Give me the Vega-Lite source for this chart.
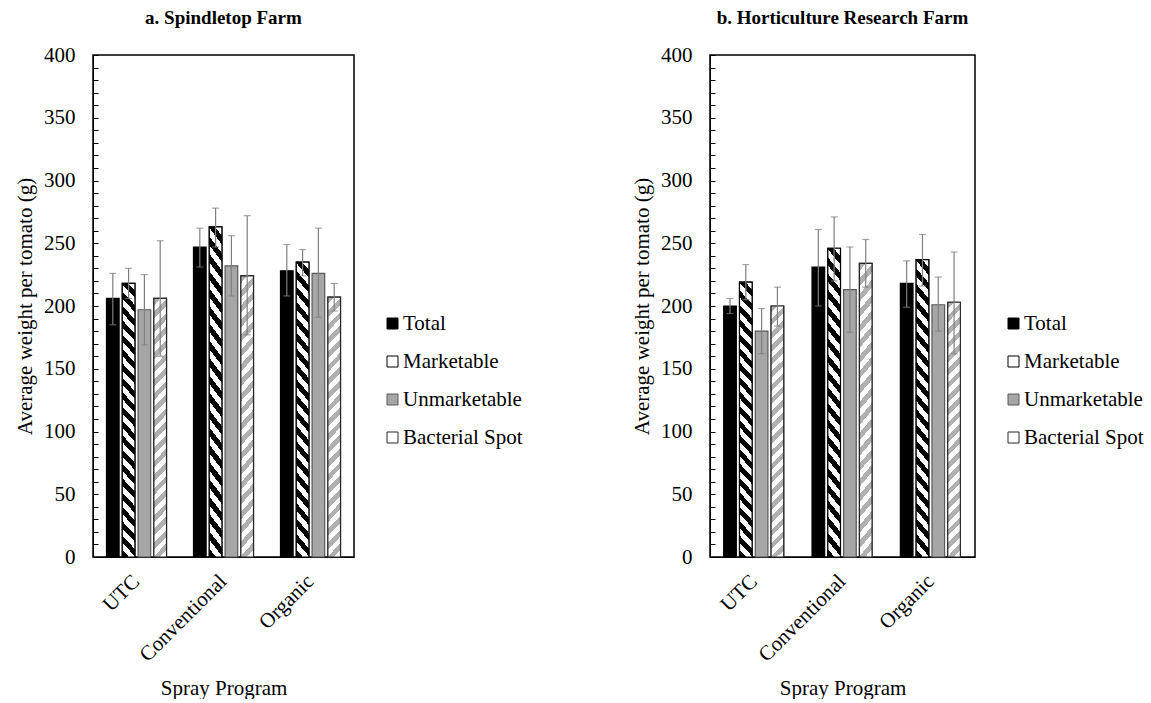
{
  "$schema": "https://vega.github.io/schema/vega-lite/v6.json",
  "padding": {"left": 13, "top": 8, "right": 0, "bottom": 0},
  "background": "white",
  "config": {
    "font": "Liberation Serif",
    "view": {"stroke": "#000", "strokeWidth": 1.5},
    "axis": {"labelFont": "Liberation Serif", "titleFont": "Liberation Serif", "labelFontSize": 21, "titleFontSize": 21, "titleFontWeight": "normal", "labelColor": "#000", "titleColor": "#000", "domainColor": "#000", "tickColor": "#000", "grid": false},
    "title": {"font": "Liberation Serif", "fontSize": 19, "fontWeight": "bold", "color": "#000", "offset": 16},
    "legend": {"labelFont": "Liberation Serif", "labelFontSize": 21, "labelColor": "#000"}
  },
  "datasets": {
    "tomato": [
      {"farm": "a", "program": "UTC", "type": "Total", "mean": 206, "lo": 185, "hi": 226},
      {"farm": "a", "program": "UTC", "type": "Marketable", "mean": 218, "lo": 206, "hi": 230},
      {"farm": "a", "program": "UTC", "type": "Unmarketable", "mean": 197, "lo": 169, "hi": 225},
      {"farm": "a", "program": "UTC", "type": "Bacterial Spot", "mean": 206, "lo": 160, "hi": 252},
      {"farm": "a", "program": "Conventional", "type": "Total", "mean": 247, "lo": 231, "hi": 262},
      {"farm": "a", "program": "Conventional", "type": "Marketable", "mean": 263, "lo": 247, "hi": 278},
      {"farm": "a", "program": "Conventional", "type": "Unmarketable", "mean": 232, "lo": 208, "hi": 256},
      {"farm": "a", "program": "Conventional", "type": "Bacterial Spot", "mean": 224, "lo": 177, "hi": 272},
      {"farm": "a", "program": "Organic", "type": "Total", "mean": 228, "lo": 208, "hi": 249},
      {"farm": "a", "program": "Organic", "type": "Marketable", "mean": 235, "lo": 224, "hi": 245},
      {"farm": "a", "program": "Organic", "type": "Unmarketable", "mean": 226, "lo": 191, "hi": 262},
      {"farm": "a", "program": "Organic", "type": "Bacterial Spot", "mean": 207, "lo": 196, "hi": 218},
      {"farm": "b", "program": "UTC", "type": "Total", "mean": 200, "lo": 194, "hi": 206},
      {"farm": "b", "program": "UTC", "type": "Marketable", "mean": 219, "lo": 205, "hi": 233},
      {"farm": "b", "program": "UTC", "type": "Unmarketable", "mean": 180, "lo": 162, "hi": 198},
      {"farm": "b", "program": "UTC", "type": "Bacterial Spot", "mean": 200, "lo": 184, "hi": 215},
      {"farm": "b", "program": "Conventional", "type": "Total", "mean": 231, "lo": 200, "hi": 261},
      {"farm": "b", "program": "Conventional", "type": "Marketable", "mean": 246, "lo": 220, "hi": 271},
      {"farm": "b", "program": "Conventional", "type": "Unmarketable", "mean": 213, "lo": 179, "hi": 247},
      {"farm": "b", "program": "Conventional", "type": "Bacterial Spot", "mean": 234, "lo": 215, "hi": 253},
      {"farm": "b", "program": "Organic", "type": "Total", "mean": 218, "lo": 199, "hi": 236},
      {"farm": "b", "program": "Organic", "type": "Marketable", "mean": 237, "lo": 216, "hi": 257},
      {"farm": "b", "program": "Organic", "type": "Unmarketable", "mean": 201, "lo": 180, "hi": 223},
      {"farm": "b", "program": "Organic", "type": "Bacterial Spot", "mean": 203, "lo": 162, "hi": 243}
    ]
  },
  "spacing": 106,
  "resolve": {"legend": {"fill": "independent", "stroke": "independent"}},
  "hconcat": [
    {
      "width": 261,
      "height": 502,
      "title": {"text": "a. Spindletop Farm"},
      "data": {"name": "tomato"},
      "transform": [{"filter": "datum.farm === 'a'"}],
      "encoding": {
        "x": {"field": "program", "type": "nominal", "sort": ["UTC", "Conventional", "Organic"], "scale": {"paddingInner": 0.31, "paddingOuter": 0.155}, "axis": {"title": "Spray Program", "labelAngle": -45, "labelAlign": "right", "labelBaseline": "middle", "ticks": false, "labelPadding": 21, "titlePadding": 12}},
        "xOffset": {"field": "type", "type": "nominal", "scale": {"domain": ["Total", "Marketable", "Unmarketable", "Bacterial Spot"], "paddingInner": 0.2}},
        "y": {"field": "mean", "type": "quantitative", "title": "Average weight per tomato (g)", "scale": {"domain": [0, 400]}, "axis": {"values": [0,10,20,30,40,50,60,70,80,90,100,110,120,130,140,150,160,170,180,190,200,210,220,230,240,250,260,270,280,290,300,310,320,330,340,350,360,370,380,390,400], "labelExpr": "datum.value % 50 === 0 ? datum.label : ''", "tickSize": -5, "labelPadding": 23, "titlePadding": 8}}
      },
      "layer": [
        {
          "mark": {"type": "bar", "strokeWidth": 1.2},
          "encoding": {
            "fill": {"field": "type", "type": "nominal", "scale": {"domain": ["Total", "Marketable", "Unmarketable", "Bacterial Spot"], "range": ["#000000", "#ffffff", "#a6a6a6", "#ffffff"]}, "legend": {"title": null, "orient": "none", "legendX": 289, "legendY": 258, "symbolType": "square", "symbolSize": 121, "rowPadding": 16, "labelOffset": 0, "symbolStrokeWidth": 1}},
            "stroke": {"field": "type", "type": "nominal", "scale": {"domain": ["Total", "Marketable", "Unmarketable", "Bacterial Spot"], "range": ["#000000", "#000000", "#595959", "#262626"]}, "legend": {"title": null, "orient": "none", "legendX": 289, "legendY": 258, "symbolType": "square", "symbolSize": 121, "rowPadding": 16, "labelOffset": 0, "symbolStrokeWidth": 1}}
          }
        },
        {
          "transform": [{"filter": "datum.type === 'Marketable'"}],
          "mark": {"type": "bar", "strokeWidth": 1.2, "stroke": "#000", "fill": {"gradient": "linear", "x1": 0, "y1": 1, "x2": 0.0524, "y2": -0.047, "stops": [
                {"offset": 0, "color": "#000"}, {"offset": 0.025, "color": "#000"}, {"offset": 0.025, "color": "#fff"}, {"offset": 0.05, "color": "#fff"},
                {"offset": 0.05, "color": "#000"}, {"offset": 0.075, "color": "#000"}, {"offset": 0.075, "color": "#fff"}, {"offset": 0.1, "color": "#fff"},
                {"offset": 0.1, "color": "#000"}, {"offset": 0.125, "color": "#000"}, {"offset": 0.125, "color": "#fff"}, {"offset": 0.15, "color": "#fff"},
                {"offset": 0.15, "color": "#000"}, {"offset": 0.175, "color": "#000"}, {"offset": 0.175, "color": "#fff"}, {"offset": 0.2, "color": "#fff"},
                {"offset": 0.2, "color": "#000"}, {"offset": 0.225, "color": "#000"}, {"offset": 0.225, "color": "#fff"}, {"offset": 0.25, "color": "#fff"},
                {"offset": 0.25, "color": "#000"}, {"offset": 0.275, "color": "#000"}, {"offset": 0.275, "color": "#fff"}, {"offset": 0.3, "color": "#fff"},
                {"offset": 0.3, "color": "#000"}, {"offset": 0.325, "color": "#000"}, {"offset": 0.325, "color": "#fff"}, {"offset": 0.35, "color": "#fff"},
                {"offset": 0.35, "color": "#000"}, {"offset": 0.375, "color": "#000"}, {"offset": 0.375, "color": "#fff"}, {"offset": 0.4, "color": "#fff"},
                {"offset": 0.4, "color": "#000"}, {"offset": 0.425, "color": "#000"}, {"offset": 0.425, "color": "#fff"}, {"offset": 0.45, "color": "#fff"},
                {"offset": 0.45, "color": "#000"}, {"offset": 0.475, "color": "#000"}, {"offset": 0.475, "color": "#fff"}, {"offset": 0.5, "color": "#fff"},
                {"offset": 0.5, "color": "#000"}, {"offset": 0.525, "color": "#000"}, {"offset": 0.525, "color": "#fff"}, {"offset": 0.55, "color": "#fff"},
                {"offset": 0.55, "color": "#000"}, {"offset": 0.575, "color": "#000"}, {"offset": 0.575, "color": "#fff"}, {"offset": 0.6, "color": "#fff"},
                {"offset": 0.6, "color": "#000"}, {"offset": 0.625, "color": "#000"}, {"offset": 0.625, "color": "#fff"}, {"offset": 0.65, "color": "#fff"},
                {"offset": 0.65, "color": "#000"}, {"offset": 0.675, "color": "#000"}, {"offset": 0.675, "color": "#fff"}, {"offset": 0.7, "color": "#fff"},
                {"offset": 0.7, "color": "#000"}, {"offset": 0.725, "color": "#000"}, {"offset": 0.725, "color": "#fff"}, {"offset": 0.75, "color": "#fff"},
                {"offset": 0.75, "color": "#000"}, {"offset": 0.775, "color": "#000"}, {"offset": 0.775, "color": "#fff"}, {"offset": 0.8, "color": "#fff"},
                {"offset": 0.8, "color": "#000"}, {"offset": 0.825, "color": "#000"}, {"offset": 0.825, "color": "#fff"}, {"offset": 0.85, "color": "#fff"},
                {"offset": 0.85, "color": "#000"}, {"offset": 0.875, "color": "#000"}, {"offset": 0.875, "color": "#fff"}, {"offset": 0.9, "color": "#fff"},
                {"offset": 0.9, "color": "#000"}, {"offset": 0.925, "color": "#000"}, {"offset": 0.925, "color": "#fff"}, {"offset": 0.95, "color": "#fff"},
                {"offset": 0.95, "color": "#000"}, {"offset": 0.975, "color": "#000"}, {"offset": 0.975, "color": "#fff"}, {"offset": 1, "color": "#fff"}
              ]}},
          "encoding": {}
        },
        {
          "transform": [{"filter": "datum.type === 'Bacterial Spot'"}],
          "mark": {"type": "bar", "strokeWidth": 1.2, "stroke": "#262626", "fill": {"gradient": "linear", "x1": 0, "y1": 0, "x2": 0.0524, "y2": 1.047, "stops": [
                {"offset": 0, "color": "#b0b0b0"}, {"offset": 0.025, "color": "#b0b0b0"}, {"offset": 0.025, "color": "#fff"}, {"offset": 0.05, "color": "#fff"},
                {"offset": 0.05, "color": "#b0b0b0"}, {"offset": 0.075, "color": "#b0b0b0"}, {"offset": 0.075, "color": "#fff"}, {"offset": 0.1, "color": "#fff"},
                {"offset": 0.1, "color": "#b0b0b0"}, {"offset": 0.125, "color": "#b0b0b0"}, {"offset": 0.125, "color": "#fff"}, {"offset": 0.15, "color": "#fff"},
                {"offset": 0.15, "color": "#b0b0b0"}, {"offset": 0.175, "color": "#b0b0b0"}, {"offset": 0.175, "color": "#fff"}, {"offset": 0.2, "color": "#fff"},
                {"offset": 0.2, "color": "#b0b0b0"}, {"offset": 0.225, "color": "#b0b0b0"}, {"offset": 0.225, "color": "#fff"}, {"offset": 0.25, "color": "#fff"},
                {"offset": 0.25, "color": "#b0b0b0"}, {"offset": 0.275, "color": "#b0b0b0"}, {"offset": 0.275, "color": "#fff"}, {"offset": 0.3, "color": "#fff"},
                {"offset": 0.3, "color": "#b0b0b0"}, {"offset": 0.325, "color": "#b0b0b0"}, {"offset": 0.325, "color": "#fff"}, {"offset": 0.35, "color": "#fff"},
                {"offset": 0.35, "color": "#b0b0b0"}, {"offset": 0.375, "color": "#b0b0b0"}, {"offset": 0.375, "color": "#fff"}, {"offset": 0.4, "color": "#fff"},
                {"offset": 0.4, "color": "#b0b0b0"}, {"offset": 0.425, "color": "#b0b0b0"}, {"offset": 0.425, "color": "#fff"}, {"offset": 0.45, "color": "#fff"},
                {"offset": 0.45, "color": "#b0b0b0"}, {"offset": 0.475, "color": "#b0b0b0"}, {"offset": 0.475, "color": "#fff"}, {"offset": 0.5, "color": "#fff"},
                {"offset": 0.5, "color": "#b0b0b0"}, {"offset": 0.525, "color": "#b0b0b0"}, {"offset": 0.525, "color": "#fff"}, {"offset": 0.55, "color": "#fff"},
                {"offset": 0.55, "color": "#b0b0b0"}, {"offset": 0.575, "color": "#b0b0b0"}, {"offset": 0.575, "color": "#fff"}, {"offset": 0.6, "color": "#fff"},
                {"offset": 0.6, "color": "#b0b0b0"}, {"offset": 0.625, "color": "#b0b0b0"}, {"offset": 0.625, "color": "#fff"}, {"offset": 0.65, "color": "#fff"},
                {"offset": 0.65, "color": "#b0b0b0"}, {"offset": 0.675, "color": "#b0b0b0"}, {"offset": 0.675, "color": "#fff"}, {"offset": 0.7, "color": "#fff"},
                {"offset": 0.7, "color": "#b0b0b0"}, {"offset": 0.725, "color": "#b0b0b0"}, {"offset": 0.725, "color": "#fff"}, {"offset": 0.75, "color": "#fff"},
                {"offset": 0.75, "color": "#b0b0b0"}, {"offset": 0.775, "color": "#b0b0b0"}, {"offset": 0.775, "color": "#fff"}, {"offset": 0.8, "color": "#fff"},
                {"offset": 0.8, "color": "#b0b0b0"}, {"offset": 0.825, "color": "#b0b0b0"}, {"offset": 0.825, "color": "#fff"}, {"offset": 0.85, "color": "#fff"},
                {"offset": 0.85, "color": "#b0b0b0"}, {"offset": 0.875, "color": "#b0b0b0"}, {"offset": 0.875, "color": "#fff"}, {"offset": 0.9, "color": "#fff"},
                {"offset": 0.9, "color": "#b0b0b0"}, {"offset": 0.925, "color": "#b0b0b0"}, {"offset": 0.925, "color": "#fff"}, {"offset": 0.95, "color": "#fff"},
                {"offset": 0.95, "color": "#b0b0b0"}, {"offset": 0.975, "color": "#b0b0b0"}, {"offset": 0.975, "color": "#fff"}, {"offset": 1, "color": "#fff"}
              ]}},
          "encoding": {}
        },
        {
          "mark": {"type": "rule", "color": "#7f7f7f", "strokeWidth": 1.2},
          "encoding": {"y": {"field": "lo", "type": "quantitative"}, "y2": {"field": "hi"}}
        },
        {
          "mark": {"type": "tick", "color": "#7f7f7f", "size": 7, "thickness": 1.2},
          "encoding": {"y": {"field": "lo", "type": "quantitative"}}
        },
        {
          "mark": {"type": "tick", "color": "#7f7f7f", "size": 7, "thickness": 1.2},
          "encoding": {"y": {"field": "hi", "type": "quantitative"}}
        }
      ]
    },
    {
      "width": 265,
      "height": 502,
      "title": {"text": "b. Horticulture Research Farm"},
      "data": {"name": "tomato"},
      "transform": [{"filter": "datum.farm === 'b'"}],
      "encoding": {
        "x": {"field": "program", "type": "nominal", "sort": ["UTC", "Conventional", "Organic"], "scale": {"paddingInner": 0.31, "paddingOuter": 0.155}, "axis": {"title": "Spray Program", "labelAngle": -45, "labelAlign": "right", "labelBaseline": "middle", "ticks": false, "labelPadding": 21, "titlePadding": 12}},
        "xOffset": {"field": "type", "type": "nominal", "scale": {"domain": ["Total", "Marketable", "Unmarketable", "Bacterial Spot"], "paddingInner": 0.2}},
        "y": {"field": "mean", "type": "quantitative", "title": "Average weight per tomato (g)", "scale": {"domain": [0, 400]}, "axis": {"values": [0,10,20,30,40,50,60,70,80,90,100,110,120,130,140,150,160,170,180,190,200,210,220,230,240,250,260,270,280,290,300,310,320,330,340,350,360,370,380,390,400], "labelExpr": "datum.value % 50 === 0 ? datum.label : ''", "tickSize": -5, "labelPadding": 23, "titlePadding": 8}}
      },
      "layer": [
        {
          "mark": {"type": "bar", "strokeWidth": 1.2},
          "encoding": {
            "fill": {"field": "type", "type": "nominal", "scale": {"domain": ["Total", "Marketable", "Unmarketable", "Bacterial Spot"], "range": ["#000000", "#ffffff", "#a6a6a6", "#ffffff"]}, "legend": {"title": null, "orient": "none", "legendX": 293, "legendY": 258, "symbolType": "square", "symbolSize": 121, "rowPadding": 16, "labelOffset": 0, "symbolStrokeWidth": 1}},
            "stroke": {"field": "type", "type": "nominal", "scale": {"domain": ["Total", "Marketable", "Unmarketable", "Bacterial Spot"], "range": ["#000000", "#000000", "#595959", "#262626"]}, "legend": {"title": null, "orient": "none", "legendX": 293, "legendY": 258, "symbolType": "square", "symbolSize": 121, "rowPadding": 16, "labelOffset": 0, "symbolStrokeWidth": 1}}
          }
        },
        {
          "transform": [{"filter": "datum.type === 'Marketable'"}],
          "mark": {"type": "bar", "strokeWidth": 1.2, "stroke": "#000", "fill": {"gradient": "linear", "x1": 0, "y1": 1, "x2": 0.0524, "y2": -0.047, "stops": [
                {"offset": 0, "color": "#000"}, {"offset": 0.025, "color": "#000"}, {"offset": 0.025, "color": "#fff"}, {"offset": 0.05, "color": "#fff"},
                {"offset": 0.05, "color": "#000"}, {"offset": 0.075, "color": "#000"}, {"offset": 0.075, "color": "#fff"}, {"offset": 0.1, "color": "#fff"},
                {"offset": 0.1, "color": "#000"}, {"offset": 0.125, "color": "#000"}, {"offset": 0.125, "color": "#fff"}, {"offset": 0.15, "color": "#fff"},
                {"offset": 0.15, "color": "#000"}, {"offset": 0.175, "color": "#000"}, {"offset": 0.175, "color": "#fff"}, {"offset": 0.2, "color": "#fff"},
                {"offset": 0.2, "color": "#000"}, {"offset": 0.225, "color": "#000"}, {"offset": 0.225, "color": "#fff"}, {"offset": 0.25, "color": "#fff"},
                {"offset": 0.25, "color": "#000"}, {"offset": 0.275, "color": "#000"}, {"offset": 0.275, "color": "#fff"}, {"offset": 0.3, "color": "#fff"},
                {"offset": 0.3, "color": "#000"}, {"offset": 0.325, "color": "#000"}, {"offset": 0.325, "color": "#fff"}, {"offset": 0.35, "color": "#fff"},
                {"offset": 0.35, "color": "#000"}, {"offset": 0.375, "color": "#000"}, {"offset": 0.375, "color": "#fff"}, {"offset": 0.4, "color": "#fff"},
                {"offset": 0.4, "color": "#000"}, {"offset": 0.425, "color": "#000"}, {"offset": 0.425, "color": "#fff"}, {"offset": 0.45, "color": "#fff"},
                {"offset": 0.45, "color": "#000"}, {"offset": 0.475, "color": "#000"}, {"offset": 0.475, "color": "#fff"}, {"offset": 0.5, "color": "#fff"},
                {"offset": 0.5, "color": "#000"}, {"offset": 0.525, "color": "#000"}, {"offset": 0.525, "color": "#fff"}, {"offset": 0.55, "color": "#fff"},
                {"offset": 0.55, "color": "#000"}, {"offset": 0.575, "color": "#000"}, {"offset": 0.575, "color": "#fff"}, {"offset": 0.6, "color": "#fff"},
                {"offset": 0.6, "color": "#000"}, {"offset": 0.625, "color": "#000"}, {"offset": 0.625, "color": "#fff"}, {"offset": 0.65, "color": "#fff"},
                {"offset": 0.65, "color": "#000"}, {"offset": 0.675, "color": "#000"}, {"offset": 0.675, "color": "#fff"}, {"offset": 0.7, "color": "#fff"},
                {"offset": 0.7, "color": "#000"}, {"offset": 0.725, "color": "#000"}, {"offset": 0.725, "color": "#fff"}, {"offset": 0.75, "color": "#fff"},
                {"offset": 0.75, "color": "#000"}, {"offset": 0.775, "color": "#000"}, {"offset": 0.775, "color": "#fff"}, {"offset": 0.8, "color": "#fff"},
                {"offset": 0.8, "color": "#000"}, {"offset": 0.825, "color": "#000"}, {"offset": 0.825, "color": "#fff"}, {"offset": 0.85, "color": "#fff"},
                {"offset": 0.85, "color": "#000"}, {"offset": 0.875, "color": "#000"}, {"offset": 0.875, "color": "#fff"}, {"offset": 0.9, "color": "#fff"},
                {"offset": 0.9, "color": "#000"}, {"offset": 0.925, "color": "#000"}, {"offset": 0.925, "color": "#fff"}, {"offset": 0.95, "color": "#fff"},
                {"offset": 0.95, "color": "#000"}, {"offset": 0.975, "color": "#000"}, {"offset": 0.975, "color": "#fff"}, {"offset": 1, "color": "#fff"}
              ]}},
          "encoding": {}
        },
        {
          "transform": [{"filter": "datum.type === 'Bacterial Spot'"}],
          "mark": {"type": "bar", "strokeWidth": 1.2, "stroke": "#262626", "fill": {"gradient": "linear", "x1": 0, "y1": 0, "x2": 0.0524, "y2": 1.047, "stops": [
                {"offset": 0, "color": "#b0b0b0"}, {"offset": 0.025, "color": "#b0b0b0"}, {"offset": 0.025, "color": "#fff"}, {"offset": 0.05, "color": "#fff"},
                {"offset": 0.05, "color": "#b0b0b0"}, {"offset": 0.075, "color": "#b0b0b0"}, {"offset": 0.075, "color": "#fff"}, {"offset": 0.1, "color": "#fff"},
                {"offset": 0.1, "color": "#b0b0b0"}, {"offset": 0.125, "color": "#b0b0b0"}, {"offset": 0.125, "color": "#fff"}, {"offset": 0.15, "color": "#fff"},
                {"offset": 0.15, "color": "#b0b0b0"}, {"offset": 0.175, "color": "#b0b0b0"}, {"offset": 0.175, "color": "#fff"}, {"offset": 0.2, "color": "#fff"},
                {"offset": 0.2, "color": "#b0b0b0"}, {"offset": 0.225, "color": "#b0b0b0"}, {"offset": 0.225, "color": "#fff"}, {"offset": 0.25, "color": "#fff"},
                {"offset": 0.25, "color": "#b0b0b0"}, {"offset": 0.275, "color": "#b0b0b0"}, {"offset": 0.275, "color": "#fff"}, {"offset": 0.3, "color": "#fff"},
                {"offset": 0.3, "color": "#b0b0b0"}, {"offset": 0.325, "color": "#b0b0b0"}, {"offset": 0.325, "color": "#fff"}, {"offset": 0.35, "color": "#fff"},
                {"offset": 0.35, "color": "#b0b0b0"}, {"offset": 0.375, "color": "#b0b0b0"}, {"offset": 0.375, "color": "#fff"}, {"offset": 0.4, "color": "#fff"},
                {"offset": 0.4, "color": "#b0b0b0"}, {"offset": 0.425, "color": "#b0b0b0"}, {"offset": 0.425, "color": "#fff"}, {"offset": 0.45, "color": "#fff"},
                {"offset": 0.45, "color": "#b0b0b0"}, {"offset": 0.475, "color": "#b0b0b0"}, {"offset": 0.475, "color": "#fff"}, {"offset": 0.5, "color": "#fff"},
                {"offset": 0.5, "color": "#b0b0b0"}, {"offset": 0.525, "color": "#b0b0b0"}, {"offset": 0.525, "color": "#fff"}, {"offset": 0.55, "color": "#fff"},
                {"offset": 0.55, "color": "#b0b0b0"}, {"offset": 0.575, "color": "#b0b0b0"}, {"offset": 0.575, "color": "#fff"}, {"offset": 0.6, "color": "#fff"},
                {"offset": 0.6, "color": "#b0b0b0"}, {"offset": 0.625, "color": "#b0b0b0"}, {"offset": 0.625, "color": "#fff"}, {"offset": 0.65, "color": "#fff"},
                {"offset": 0.65, "color": "#b0b0b0"}, {"offset": 0.675, "color": "#b0b0b0"}, {"offset": 0.675, "color": "#fff"}, {"offset": 0.7, "color": "#fff"},
                {"offset": 0.7, "color": "#b0b0b0"}, {"offset": 0.725, "color": "#b0b0b0"}, {"offset": 0.725, "color": "#fff"}, {"offset": 0.75, "color": "#fff"},
                {"offset": 0.75, "color": "#b0b0b0"}, {"offset": 0.775, "color": "#b0b0b0"}, {"offset": 0.775, "color": "#fff"}, {"offset": 0.8, "color": "#fff"},
                {"offset": 0.8, "color": "#b0b0b0"}, {"offset": 0.825, "color": "#b0b0b0"}, {"offset": 0.825, "color": "#fff"}, {"offset": 0.85, "color": "#fff"},
                {"offset": 0.85, "color": "#b0b0b0"}, {"offset": 0.875, "color": "#b0b0b0"}, {"offset": 0.875, "color": "#fff"}, {"offset": 0.9, "color": "#fff"},
                {"offset": 0.9, "color": "#b0b0b0"}, {"offset": 0.925, "color": "#b0b0b0"}, {"offset": 0.925, "color": "#fff"}, {"offset": 0.95, "color": "#fff"},
                {"offset": 0.95, "color": "#b0b0b0"}, {"offset": 0.975, "color": "#b0b0b0"}, {"offset": 0.975, "color": "#fff"}, {"offset": 1, "color": "#fff"}
              ]}},
          "encoding": {}
        },
        {
          "mark": {"type": "rule", "color": "#7f7f7f", "strokeWidth": 1.2},
          "encoding": {"y": {"field": "lo", "type": "quantitative"}, "y2": {"field": "hi"}}
        },
        {
          "mark": {"type": "tick", "color": "#7f7f7f", "size": 7, "thickness": 1.2},
          "encoding": {"y": {"field": "lo", "type": "quantitative"}}
        },
        {
          "mark": {"type": "tick", "color": "#7f7f7f", "size": 7, "thickness": 1.2},
          "encoding": {"y": {"field": "hi", "type": "quantitative"}}
        }
      ]
    }
  ]
}
